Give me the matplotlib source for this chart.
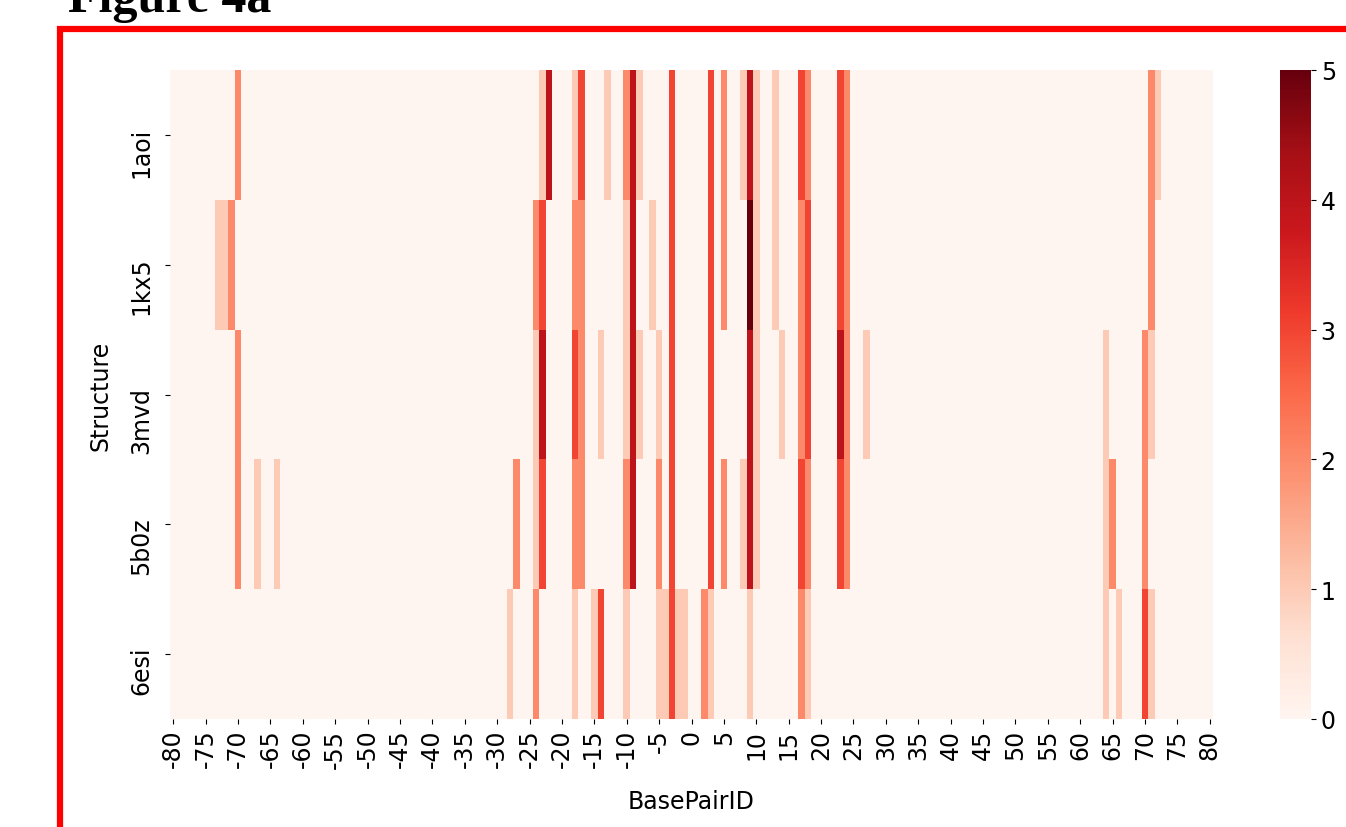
import numpy as np
import pandas as pd
import matplotlib
matplotlib.use("Agg")
import matplotlib.pyplot as plt
import matplotlib.transforms as mtransforms
import seaborn as sns
from matplotlib.patches import Rectangle

# base pair ids on the x axis
bp_ids = list(range(-80, 81))
structures = ["1aoi", "1kx5", "3mvd", "5b0z", "6esi"]

# non-zero cells per structure (base pair id, value)
aoi_pos = [-70, -23, -22, -18, -17, -13, -10, -9, -8, -3, 3, 5, 8, 9, 10, 13, 17, 18, 23, 24, 71, 72]
aoi_val = [2, 1, 4, 1, 3, 1, 2, 4, 1, 3, 3, 2, 1, 4, 1, 1, 3, 2, 3, 2, 2, 1]

kx5_pos = [-73, -72, -71, -24, -23, -18, -17, -10, -9, -6, -3, 3, 5, 9, 10, 13, 17, 18, 23, 24, 71]
kx5_val = [1, 1, 2, 2, 3, 2, 2, 1, 4, 1, 3, 3, 2, 5, 1, 1, 2, 3, 3, 2, 2]

mvd_pos = [-70, -24, -23, -18, -17, -14, -10, -9, -8, -5, -3, 3, 9, 10, 14, 17, 18, 23, 24, 27, 64, 70, 71]
mvd_val = [2, 1, 4, 3, 2, 1, 1, 4, 1, 1, 3, 3, 4, 1, 1, 2, 3, 4, 2, 1, 1, 2, 1]

b0z_pos = [-70, -67, -64, -27, -24, -23, -18, -17, -10, -9, -5, -3, 3, 5, 8, 9, 10, 17, 18, 23, 24, 64, 65, 70]
b0z_val = [2, 1, 1, 2, 1, 3, 2, 2, 2, 4, 2, 3, 3, 2, 1, 4, 1, 3, 2, 3, 2, 1, 2, 2]

esi_pos = [-28, -24, -18, -15, -14, -10, -5, -4, -3, -2, -1, 2, 3, 9, 17, 18, 64, 66, 70, 71]
esi_val = [1, 2, 1, 1, 3, 1, 1, 1, 3, 1, 1, 2, 1, 1, 2, 1, 1, 1, 3, 1]

rows = [(aoi_pos, aoi_val), (kx5_pos, kx5_val), (mvd_pos, mvd_val),
        (b0z_pos, b0z_val), (esi_pos, esi_val)]

df = pd.DataFrame(0, index=structures, columns=bp_ids, dtype=float)
for name, (pos, val) in zip(structures, rows):
    for p, v in zip(pos, val):
        df.loc[name, p] = v
df.index.name = "Structure"
df.columns.name = "BasePairID"

fsize = 17
fig = plt.figure(figsize=(13.46, 8.28), dpi=100)
ax1 = fig.add_axes([170/1346, 1-720/828, 1043/1346, 649/828])
cax = fig.add_axes([1280/1346, 1-720/828, 31/1346, 649/828])

sns.heatmap(df, cmap="Reds", vmin=0, vmax=5, xticklabels=5, ax=ax1, cbar_ax=cax)

ax1.set_xlabel("BasePairID", fontsize=fsize, labelpad=15)
ax1.set_ylabel("Structure", fontsize=fsize, labelpad=12)
ax1.tick_params(axis="x", labelsize=fsize, rotation=90)
ax1.tick_params(axis="y", labelsize=fsize, rotation=90, pad=8.5)
# labels sit a little below the tick, as in the original
offset = mtransforms.ScaledTranslation(0, 6/72, fig.dpi_scale_trans)
for t in ax1.get_yticklabels():
    t.set_va("top")
    t.set_transform(t.get_transform() + offset)
cax.tick_params(labelsize=fsize)

# red frame and header
fig.patches.append(Rectangle((60/1346, -0.1), 2.0, 1.1 - 30/828, transform=fig.transFigure,
                             fill=False, edgecolor="red", linewidth=4.5))
fig.text(68/1346, 1-12/828, "Figure 4a", fontsize=36, fontweight="bold",
         family="Liberation Serif", va="baseline", ha="left")

fig.savefig("out.png", dpi=100)
